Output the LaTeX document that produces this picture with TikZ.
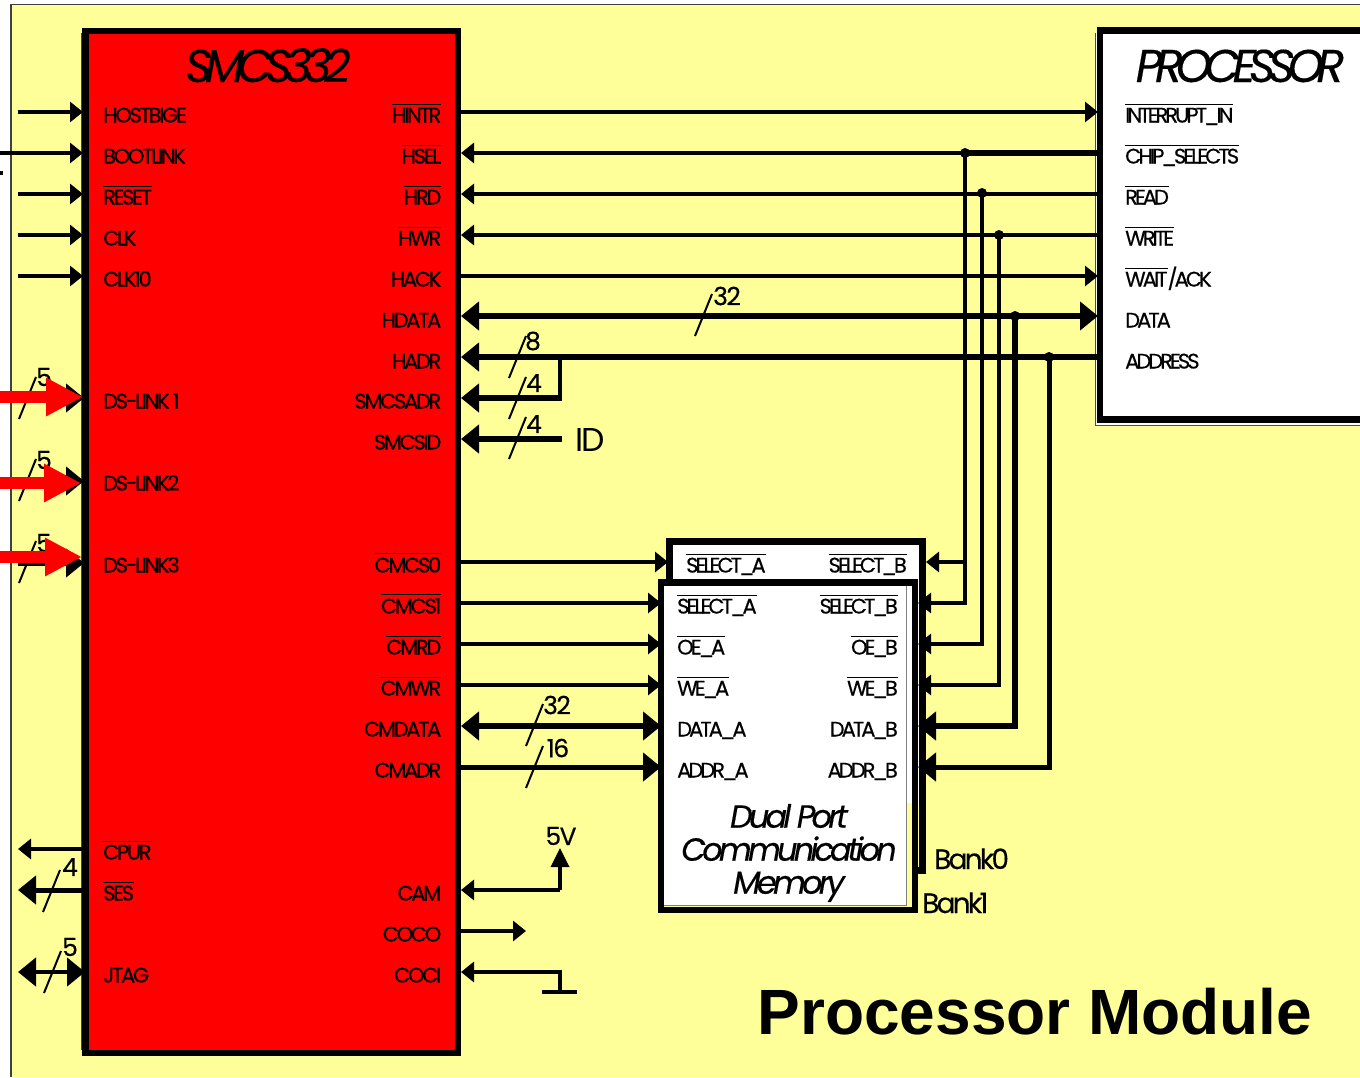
\documentclass[tikz,border=0pt]{standalone}
\usepackage{fontspec}
\usetikzlibrary{arrows.meta}
\newfontfamily\lab[LetterSpace=-11,FakeBold=0.5]{Poppins}
\newfontfamily\labw[LetterSpace=-14,FakeBold=0.5]{Poppins}
\newfontfamily\titlef[LetterSpace=-16,FakeBold=0.3]{Poppins}
\newfontfamily\memf[LetterSpace=-12,FakeBold=0.3]{Poppins}
\newfontfamily\numf[LetterSpace=-6,FakeBold=0.4]{Poppins}
\newfontfamily\bankf[LetterSpace=-10,FakeBold=0.2]{Poppins}
\newfontfamily\idf[LetterSpace=-6]{Poppins}
\newfontfamily\heavy{Liberation Sans}
\newcommand\ob[1]{\leavevmode\vbox{\hrule height 1pt \kern 3pt\hbox{#1}}}
\newcommand\pinL[4][103]{\node[pinlab,anchor=base west] (#2) at (#1,#3+10.5) {#4};}
\newcommand\pinR[4][441.5]{\node[pinlab,anchor=base east] (#2) at (#1,#3+10.5) {#4};}
\newcommand\busn[6]{\coordinate (#1a) at (#2,#3); \coordinate (#1b) at (#2+17,#3-42); \draw[slashl] (#1a) -- (#1b); \node[numlab] (#1n) at (#4,#5) {#6};}
\definecolor{paper}{HTML}{FFFF99}
\tikzset{
  pinlab/.style={inner sep=0pt,font=\lab\fontsize{21}{21}\selectfont},
  pinwide/.style={font=\labw\fontsize{21}{21}\selectfont},
  numlab/.style={inner sep=0pt,font=\numf\fontsize{25}{25}\selectfont},
  sig/.style={line width=3.5pt},
  bus/.style={line width=6pt},
  slashl/.style={line width=2pt},
  tipS/.tip={Triangle[length=13pt,width=20pt]},
  tipB/.tip={Triangle[length=18pt,width=28pt]},
  dot/.style={circle,fill=black,inner sep=0pt,minimum size=10pt},
  redarrow/.style={draw=red,line width=12pt,-{Triangle[length=37pt,width=36pt,fill=red]}},
}
\begin{document}
\begin{tikzpicture}[x=1pt,y=-1pt]
\useasboundingbox (0,0) rectangle (1360,1077);
\fill[white] (0,0) rectangle (1360,1077);
\fill[paper] (11,5) rectangle (1360,1077);
\draw[line width=1.5pt,black!75] (11,1077) -- (11,4.5) -- (1360,4.5);

% SMCS332 box
\draw[line width=1pt,black!70!paper] (81.5,33) -- (81.5,1050);
\draw[fill=red,line width=6.5pt,miter limit=10] (85.5,31) rectangle (458,1053);
\node[inner sep=0pt,anchor=base,font=\titlef\itshape\fontsize{46}{46}\selectfont] (smcs) at (268,82) {SMCS332};

% Processor box
\fill[white] (1095.5,33) rectangle (1360,425.5);
\draw[line width=1pt,black!70] (1095.5,33) -- (1095.5,425.5) -- (1360,425.5);
\draw[line width=6.5pt] (1360,30.5) -- (1100,30.5) -- (1100,419.5) -- (1360,419.5);
\node[inner sep=0pt,anchor=base,font=\titlef\itshape\fontsize{46}{46}\selectfont] (proc) at (1240,82) {PROCESSOR};

% Memory boxes
\draw[fill=white,line width=7pt] (669.5,541.5) rectangle (922,870);
\fill[paper] (907,803) rectangle (918.5,866.5);
\fill[black] (658,579) rectangle (917.5,913);
\fill[paper] (664,586) rectangle (912,907);
\fill[white] (664,586) rectangle (912,803);
\draw[fill=white,line width=1pt,black!50] (664,586) rectangle (906,905);
\fill[white] (664,586) rectangle (905.5,904.5);
\node[inner sep=0pt,align=center,font=\memf\itshape\fontsize{32}{33}\selectfont] (dual) at (789,853) {Dual Port\\Communication\\Memory};
\node[inner sep=0pt,anchor=base west,font=\bankf\fontsize{28}{28}\selectfont] (bank0) at (934,869) {Bank0};
\node[inner sep=0pt,anchor=base west,font=\bankf\fontsize{28}{28}\selectfont] (bank1) at (922,913) {Bank1};

% Left pin labels
\pinL{hostbige}{112}{HOSTBIGE}
\pinL{bootlink}{153}{BOOTLINK}
\pinL{reset}{194}{\ob{RESET}}
\pinL{clk}{235}{CLK}
\pinL{clkten}{276}{CLK10}
\pinL{dsa}{398}{DS-LINK 1}
\pinL{dsb}{480}{DS-LINK2}
\pinL{dsc}{562}{DS-LINK3}
\pinL{cpur}{849}{\ob{CPUR}}
\pinL{ses}{890}{\ob{SES}}
\pinL{jtag}{972}{JTAG}
% Right pin labels
\pinR{hintr}{112}{\ob{HINTR}}
\pinR{hsel}{153}{\ob{HSEL}}
\pinR{hrd}{194}{\ob{HRD}}
\pinR{hwr}{235}{\ob{HWR}}
\pinR{hack}{276}{HACK}
\pinR{hdata}{317}{HDATA}
\pinR{hadr}{358}{HADR}
\pinR{smcsadr}{398}{SMCSADR}
\pinR{smcsid}{439}{SMCSID}
\pinR{cmcsz}{562}{\ob{CMCS0}}
\pinR{cmcso}{603}{\ob{CMCS1}}
\pinR{cmrd}{644}{\ob{CMRD}}
\pinR{cmwr}{685}{\ob{CMWR}}
\pinR{cmdata}{726}{CMDATA}
\pinR{cmadr}{767}{CMADR}
\pinR{cam}{890}{CAM}
\pinR{coco}{931}{COCO}
\pinR{coci}{972}{COCI}
% Processor labels
\tikzset{pinlab/.append style={pinwide}}
\pinL[1125]{intin}{112}{\ob{INTERRUPT\_IN}}
\pinL[1125]{chipsel}{153}{\ob{CHIP\_SELECTS}}
\pinL[1125]{read}{194}{\ob{READ}}
\pinL[1125]{write}{235}{\ob{WRITE}}
\pinL[1125]{waitack}{276}{\ob{WAIT}/ACK}
\pinL[1125]{pdata}{317}{DATA}
\pinL[1125]{paddr}{358}{ADDRESS}
% Memory labels
\pinL[686]{selaz}{562}{\ob{SELECT\_A}}
\pinR[907]{selbz}{562}{\ob{SELECT\_B}}
\pinL[677]{sela}{603}{\ob{SELECT\_A}}
\pinR[898]{selb}{603}{\ob{SELECT\_B}}
\pinL[677]{oea}{644}{\ob{OE\_A}}
\pinR[898]{oeb}{644}{\ob{OE\_B}}
\pinL[677]{wea}{685}{\ob{WE\_A}}
\pinR[898]{web}{685}{\ob{WE\_B}}
\pinL[677]{dataa}{726}{DATA\_A}
\pinR[898]{datab}{726}{DATA\_B}
\pinL[677]{addra}{767}{ADDR\_A}
\pinR[898]{addrb}{767}{ADDR\_B}

% Left side inputs
\foreach \n/\y in {h/112,r/194,c/235,t/276}{
  \coordinate (s\n) at (18,\y); \coordinate (e\n) at (83,\y);
  \draw[sig,-{tipS}] (s\n) -- (e\n);
}
\coordinate (sb) at (0,153); \coordinate (eb) at (83,153);
\draw[sig,-{tipS}] (sb) -- (eb);
\fill (0,171) rectangle (3,175);

% DS links
\foreach \n/\y in {a/398,b/481,c/563}{
  \coordinate (ds\n s) at (18,\y); \coordinate (ds\n e) at (84,\y);
  \draw[bus,-{tipB}] (ds\n s) -- (ds\n e);
}
\busn{sla}{19}{419}{44}{377}{5}
\busn{slb}{19}{501}{44}{460}{5}
\busn{slc}{19}{583}{44}{543}{5}
\foreach \n/\ry/\tx in {a/397/83,b/483/81,c/557/82}{
  \coordinate (red\n s) at (0,\ry); \coordinate (red\n e) at (\tx,\ry);
  \draw[redarrow] (red\n s) -- (red\n e);
}

% Lower left
\coordinate (cpus) at (83,849); \coordinate (cpue) at (18,849);
\draw[sig,-{tipS}] (cpus) -- (cpue);
\coordinate (sess) at (88,890); \coordinate (sese) at (18,890);
\draw[line width=5pt,-{tipB}] (sess) -- (sese);
\busn{slses}{43}{912}{70}{867}{4}
\coordinate (jtl) at (18,972); \coordinate (jtr) at (85,972);
\draw[line width=4.5pt,{tipB}-{tipB}] (jtl) -- (jtr);
\busn{sljt}{44}{993}{70}{947}{5}

% Processor buses
\coordinate (hsL) at (461,153); \coordinate (hsR) at (1100,153); \coordinate (hsJ) at (965,153);
\coordinate (hrL) at (461,194); \coordinate (hrR) at (1100,194); \coordinate (hrJ) at (982,193);
\coordinate (hwL) at (461,235); \coordinate (hwR) at (1100,235); \coordinate (hwJ) at (999,235);
\coordinate (inL) at (461,112); \coordinate (inR) at (1098,112);
\coordinate (akL) at (461,276); \coordinate (akR) at (1098,276);
\coordinate (dtL) at (461,316); \coordinate (dtR) at (1098,316); \coordinate (dtJ) at (1015,316);
\coordinate (adL) at (461,357); \coordinate (adR) at (1100,357); \coordinate (adJ) at (1049,357);
\coordinate (adT) at (560,357);
\draw[sig,-{tipS}] (inL) -- (inR);
\draw[sig,-{tipS}] (akL) -- (akR);
\draw[sig,{tipS}-] (hrL) -- (hrR);
\draw[sig,{tipS}-] (hwL) -- (hwR);
\draw[sig,{tipS}-] (hsL) -- (hsR);
\draw[line width=5.5pt] (hsJ) -- (hsR);
\draw[bus,{tipB}-{tipB}] (dtL) -- (dtR);
\draw[bus,{tipB}-] (adL) -- (adR);
\busn{sld}{695}{336}{727}{296}{32}
\busn{sle}{509}{378}{533}{341}{8}
\coordinate (saL) at (461,398); \coordinate (saR) at (562,398);
\draw[bus,{tipB}-] (saL) -- (saR);
\draw[line width=4.5pt] (adT) -- (saR -| adT);
\busn{slf}{509}{419}{534}{383}{4}
\coordinate (siL) at (461,439); \coordinate (siR) at (562,439);
\draw[bus,{tipB}-] (siL) -- (siR);
\busn{slg}{509}{459}{534}{424}{4}
\node[inner sep=0pt,font=\idf\fontsize{33}{33}\selectfont] (idn) at (590,440) {ID};

% Memory port A
\foreach \n/\y/\tx in {p/562/668,q/603/661,r/644/661,s/685/661}{
  \coordinate (a\n L) at (461,\y); \coordinate (a\n R) at (\tx,\y);
  \draw[sig,-{tipS}] (a\n L) -- (a\n R);
}
\coordinate (adaL) at (461,726); \coordinate (adaR) at (661,726);
\draw[bus,{tipB}-{tipB}] (adaL) -- (adaR);
\coordinate (aadL) at (461,767); \coordinate (aadR) at (661,767);
\draw[line width=5pt,-{tipB}] (aadL) -- (aadR);
\busn{slh}{526}{746}{557}{705}{32}
\busn{sli}{526}{788}{558}{748}{16}

% Memory port B
\coordinate (bp) at (926,562); \coordinate (bq) at (918,603); \coordinate (br) at (918,644); \coordinate (bs) at (918,685);
\coordinate (bt) at (918,726); \coordinate (bu) at (918,767);
\draw[sig,{tipS}-] (bp) -- (hsJ |- bp);
\draw[line width=4.5pt,{tipS}-] (bq) -- (hsJ |- bq) -- (hsJ);
\draw[sig,{tipS}-] (br) -- (hrJ |- br) -- (hrJ);
\draw[sig,{tipS}-] (bs) -- (hwJ |- bs) -- (hwJ);
\draw[bus,{tipB}-] (bt) -- (dtJ |- bt) -- (dtJ);
\draw[line width=5pt,{tipB}-] (bu) -- (adJ |- bu) -- (adJ);
\node[dot] (d1) at (hsJ) {};
\node[dot] (d2) at (hrJ) {};
\node[dot] (d3) at (hwJ) {};
\node[dot] (d4) at (dtJ) {};
\node[dot] (d5) at (adJ) {};

% Power pins
\coordinate (camL) at (461,890); \coordinate (camC) at (560,890); \coordinate (camT) at (560,848);
\draw[sig,{tipS}-] (camL) -- (camC);
\draw[sig,-{Triangle[length=19pt,width=18pt]}] (camC) -- (camT);
\node[numlab] (fivev) at (561,836) {5V};
\coordinate (cocL) at (461,931); \coordinate (cocR) at (526,931);
\draw[sig,-{tipS}] (cocL) -- (cocR);
\coordinate (ciL) at (461,972); \coordinate (ciC) at (560,972); \coordinate (ciD) at (560,992);
\coordinate (gl) at (542,992); \coordinate (gr) at (577,992);
\draw[sig,{tipS}-] (ciL) -- (ciC) -- (ciD);
\draw[sig] (gl) -- (gr);

\node[inner sep=0pt,anchor=base,font=\heavy\bfseries\fontsize{64}{64}\selectfont] (title) at (1035,1034) {Processor Module};
\end{tikzpicture}
\end{document}
